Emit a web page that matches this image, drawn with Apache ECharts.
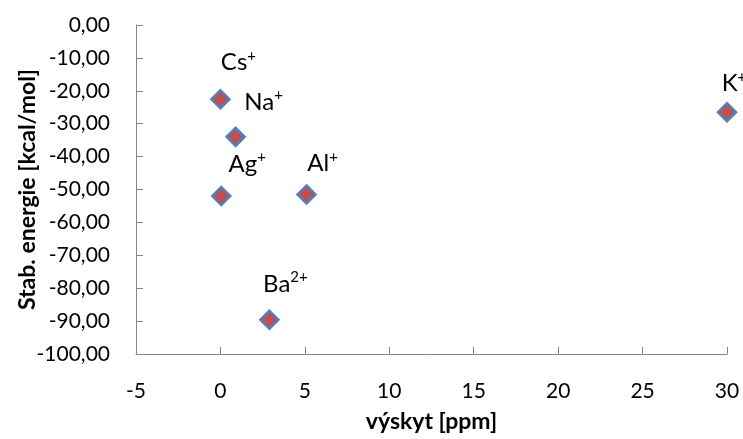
<!DOCTYPE html>
<html>
<head>
<meta charset="utf-8">
<script src="https://cdn.jsdelivr.net/npm/echarts@6/dist/echarts.min.js"></script>
<style>
  html, body { margin: 0; padding: 0; background: #ffffff; }
  #chart { width: 743px; height: 439px; }
</style>
</head>
<body>
<div id="chart"></div>
<script>
// Ions: base symbol, charge superscript, abundance and stabilisation energy
const ionSymbols = ['Cs', 'Na', 'Ag', 'Al', 'Ba', 'K'];
const ionCharges = ['+', '+', '+', '+', '2+', '+'];
const abundance = [0.0, 0.9, 0.05, 5.1, 2.9, 30];          // výskyt [ppm]
const stabEnergy = [-22.6, -34.0, -52.0, -51.5, -89.6, -26.5]; // kcal/mol

// Label placement relative to each marker (px)
const labelShift = [[18, -37], [28, -35], [26, -32], [16, -31], [16, -36], [7, -29]];

const xTicks = { min: -5, max: 30, interval: 5 };
const yTicks = { min: -100, max: 0, interval: 10 };

const font = 'Lato, "Open Sans", sans-serif';
const axisGrey = '#868686';

const points = ionSymbols.map((s, i) => ({
  value: [abundance[i], stabEnergy[i]],
  label: {
    show: true,
    position: 'inside',
    offset: labelShift[i],
    formatter: '{b|' + s + '}{s|' + ionCharges[i] + '}'
  }
}));

const chart = echarts.init(document.getElementById('chart'), null, { renderer: 'canvas' });
chart.setOption({
  animation: false,
  backgroundColor: '#ffffff',
  grid: { left: 136, right: 16, top: 25, bottom: 85, containLabel: false, outerBoundsMode: 'none' },
  xAxis: {
    type: 'value',
    min: xTicks.min, max: xTicks.max, interval: xTicks.interval,
    name: 'výskyt [ppm]',
    nameLocation: 'middle',
    nameGap: 56,
    nameTextStyle: { fontFamily: font, fontSize: 23, fontWeight: 'bold', color: '#000' },
    axisLine: { show: true, onZero: false, lineStyle: { color: axisGrey, width: 1 } },
    axisTick: { show: true, inside: true, length: 7, lineStyle: { color: axisGrey } },
    axisLabel: { fontFamily: font, fontSize: 21, color: '#000', margin: 27 },
    splitLine: { show: false }
  },
  yAxis: {
    type: 'value',
    min: yTicks.min, max: yTicks.max, interval: yTicks.interval,
    name: 'Stab. energie [kcal/mol]',
    nameLocation: 'middle',
    nameGap: 97,
    nameMoveOverlap: false,
    nameTextStyle: { fontFamily: font, fontSize: 23, fontWeight: 'bold', color: '#000' },
    axisLine: { show: true, onZero: false, lineStyle: { color: axisGrey, width: 1 } },
    axisTick: { show: true, inside: true, length: 7, lineStyle: { color: axisGrey } },
    axisLabel: {
      fontFamily: font, fontSize: 21, color: '#000', margin: 26,
      formatter: v => v.toFixed(2).replace('.', ',')
    },
    splitLine: { show: false }
  },
  series: [{
    type: 'scatter',
    symbol: 'diamond',
    symbolSize: 18,
    itemStyle: { color: '#C0504D', borderColor: '#4F81BD', borderWidth: 2.5, opacity: 1 },
    label: {
      color: '#000',
      rich: {
        b: { fontFamily: font, fontSize: 24, color: '#000', lineHeight: 28 },
        s: { fontFamily: font, fontSize: 15, color: '#000', lineHeight: 28, verticalAlign: 'top', padding: [0, 0, 9, 0] }
      }
    },
    emphasis: { disabled: true },
    data: points
  }]
});
</script>
</body>
</html>
